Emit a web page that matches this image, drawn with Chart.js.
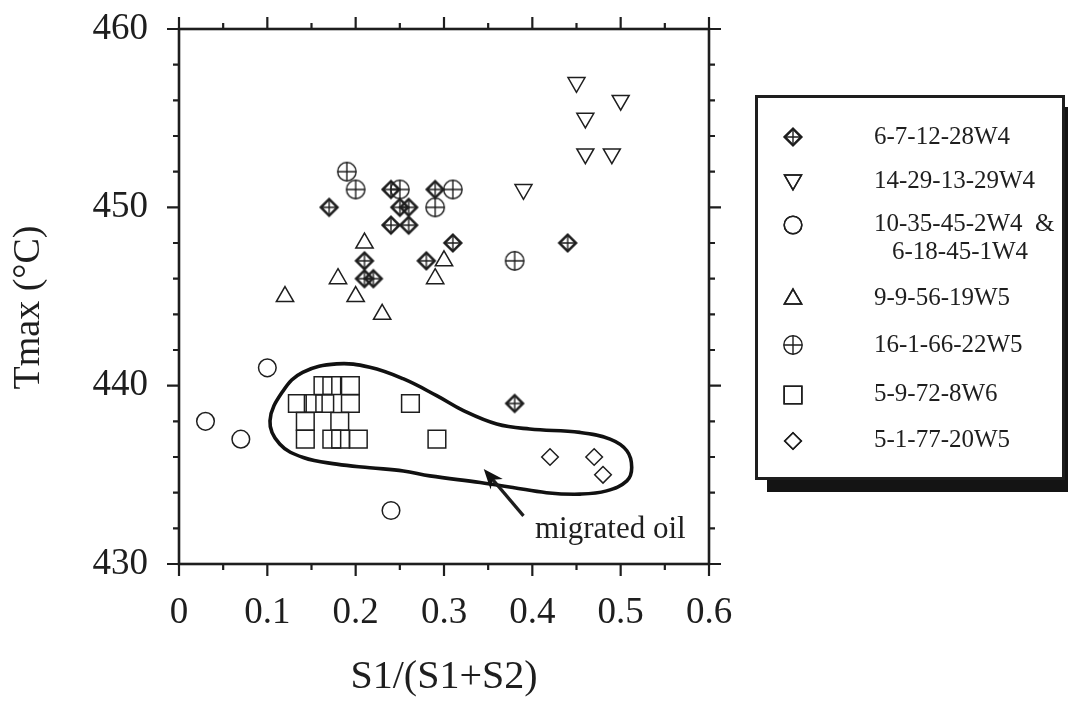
<!DOCTYPE html>
<html><head><meta charset="utf-8">
<style>html,body{margin:0;padding:0;background:#fff;}#wrap{width:1068px;height:701px;}</style>
<script src="https://cdn.jsdelivr.net/npm/chart.js@4/dist/chart.umd.min.js"></script>
</head><body><div id="wrap"><canvas id="c" width="1068" height="701"></canvas></div>
<script>
// ---- data ----
const xTickLabels = ['0','0.1','0.2','0.3','0.4','0.5','0.6'];
const yTickLabels = ['430','440','450','460'];
const xTitle = 'S1/(S1+S2)';
const yTitle = 'Tmax (°C)';
const seriesNames = [['6-7-12-28W4'],['14-29-13-29W4'],['10-35-45-2W4  &','6-18-45-1W4'],['9-9-56-19W5'],['16-1-66-22W5'],['5-9-72-8W6'],['5-1-77-20W5']];

const s1X = [0.17,0.24,0.25,0.26,0.29,0.24,0.26,0.31,0.21,0.28,0.21,0.22,0.44,0.38];
const s1Y = [450,451,450,450,451,449,449,448,447,447,446,446,448,439];
const s2X = [0.45,0.50,0.46,0.46,0.49,0.39];
const s2Y = [457,456,455,453,453,451];
const s3X = [0.10,0.03,0.07,0.24];
const s3Y = [441,438,437,433];
const s4X = [0.21,0.30,0.18,0.29,0.12,0.20,0.23];
const s4Y = [448,447,446,446,445,445,444];
const s5X = [0.19,0.20,0.25,0.31,0.29,0.38];
const s5Y = [452,451,451,451,450,447];
const s6X = [0.163,0.173,0.194,0.134,0.152,0.165,0.194,0.262,0.143,0.182,0.143,0.173,0.183,0.203,0.292];
const s6Y = [440,440,440,439,439,439,439,439,438,438,437,437,437,437,437];
const s7X = [0.42,0.47,0.48];
const s7Y = [436,436,435];

// outline of the "migrated oil" field (data units)
const outlineX = [0.103,0.118,0.140,0.1785,0.216,0.2536,0.2917,0.322,0.3597,0.397,0.454,0.488,0.507,0.5125,0.507,0.484,0.454,0.416,0.378,0.341,0.284,0.254,0.216,0.1785,0.1407,0.114];
const outlineY = [438.03,439.72,440.75,441.22,441.03,440.39,439.44,438.6,437.85,437.57,437.38,437.0,436.35,435.41,434.66,434.1,433.92,434.0,434.29,434.57,434.94,435.22,435.4,435.6,435.97,436.73];
const arrowX = [0.39,0.345];
const arrowY = [432.7,435.33];
const noteText = 'migrated oil';
const noteX = 0.403, noteY = 431.48;

// ---- helpers ----
const INK = '#1e1e1e';
const FONT = "'Liberation Serif','Times New Roman',serif";
const pts = (xs, ys) => xs.map((v, i) => ({x: v, y: ys[i]}));

function markerCanvas(kind) {
  const s = 26, c = document.createElement('canvas');
  c.width = s; c.height = s;
  const g = c.getContext('2d'), m = s / 2;
  g.strokeStyle = INK;
  if (kind === 'crossDiamond') {
    const r = 8.3;
    g.lineWidth = 2.5;
    g.beginPath(); g.moveTo(m - r, m); g.lineTo(m, m - r); g.lineTo(m + r, m); g.lineTo(m, m + r); g.closePath(); g.stroke();
    g.lineWidth = 1.4;
    g.beginPath(); g.moveTo(m - r, m); g.lineTo(m + r, m); g.moveTo(m, m - r); g.lineTo(m, m + r); g.stroke();
  } else {
    const r = 9.2;
    g.lineWidth = 1.4;
    g.beginPath(); g.arc(m, m, r, 0, Math.PI * 2); g.stroke();
    g.beginPath(); g.moveTo(m - r, m); g.lineTo(m + r, m); g.moveTo(m, m - r); g.lineTo(m, m + r); g.stroke();
  }
  return c;
}
const crossDiamond = markerCanvas('crossDiamond');
const crossCircle = markerCanvas('crossCircle');

const markerDefs = [
  {pointStyle: crossDiamond, radius: 9, rotation: 0},
  {pointStyle: 'triangle', radius: 9.8, rotation: 180},
  {pointStyle: 'circle', radius: 8.8, rotation: 0},
  {pointStyle: 'triangle', radius: 10, rotation: 0},
  {pointStyle: crossCircle, radius: 9, rotation: 0},
  {pointStyle: 'rect', radius: 12.5, rotation: 0},
  {pointStyle: 'rectRot', radius: 8.3, rotation: 0}
];
const seriesData = [pts(s1X,s1Y), pts(s2X,s2Y), pts(s3X,s3Y), pts(s4X,s4Y), pts(s5X,s5Y), pts(s6X,s6Y), pts(s7X,s7Y)];

// closed loop: pad with neighbours so every visible segment is smooth
const n = outlineX.length;
const loopIdx = [n - 1, ...outlineX.map((_, i) => i), 0, 1];
const loopData = loopIdx.map(i => ({x: outlineX[i], y: outlineY[i]}));

const datasets = [{
  label: 'outline', data: loopData, showLine: true, tension: 0.4,
  pointRadius: 0, borderWidth: 3.6, borderColor: '#111', backgroundColor: 'transparent',
  segment: {borderColor: c => (c.p0DataIndex === 0 || c.p1DataIndex === loopData.length - 1) ? 'rgba(0,0,0,0)' : '#111'}
}];
seriesData.forEach((d, i) => datasets.push({
  label: seriesNames[i].join(' '), data: d,
  pointStyle: markerDefs[i].pointStyle, pointRadius: markerDefs[i].radius,
  pointRotation: markerDefs[i].rotation, borderColor: INK, borderWidth: 1.5,
  backgroundColor: 'transparent', showLine: false
}));

const frameTicks = {
  id: 'frameTicks',
  afterDatasetsDraw(chart) {
    const {ctx, chartArea: a, scales: {x, y}} = chart;
    ctx.save();
    ctx.strokeStyle = INK;
    ctx.lineWidth = 2.6;
    ctx.strokeRect(a.left, a.top, a.right - a.left, a.bottom - a.top);
    ctx.lineWidth = 2.2;
    ctx.beginPath();
    for (let i = 0; i <= 12; i++) {
      const px = x.getPixelForValue(i * 0.05), len = i % 2 === 0 ? 12 : 6;
      ctx.moveTo(px, a.bottom); ctx.lineTo(px, a.bottom + len);
      ctx.moveTo(px, a.top); ctx.lineTo(px, a.top - len);
    }
    for (let t = 430; t <= 460; t += 2) {
      const py = y.getPixelForValue(t), len = (t - 430) % 10 === 0 ? 12 : 6;
      ctx.moveTo(a.left, py); ctx.lineTo(a.left - len, py);
      ctx.moveTo(a.right, py); ctx.lineTo(a.right + len, py);
    }
    ctx.stroke();

    // y-axis title (rotated), slightly below axis middle as in the figure
    ctx.save();
    ctx.translate(29, (a.top + a.bottom) / 2 + 11);
    ctx.rotate(-Math.PI / 2);
    ctx.font = '38px ' + FONT;
    ctx.fillStyle = INK; ctx.textAlign = 'center'; ctx.textBaseline = 'middle';
    ctx.fillText(yTitle, 0, 0);
    ctx.restore();

    // arrow and note
    const tx = x.getPixelForValue(arrowX[0]), ty = y.getPixelForValue(arrowY[0]);
    const hx = x.getPixelForValue(arrowX[1]), hy = y.getPixelForValue(arrowY[1]);
    const ang = Math.atan2(hy - ty, hx - tx);
    const L = 20, W = 8;
    const bx = hx - Math.cos(ang) * L, by = hy - Math.sin(ang) * L;
    ctx.lineWidth = 3.2;
    ctx.beginPath(); ctx.moveTo(tx, ty); ctx.lineTo(hx - Math.cos(ang) * 12, hy - Math.sin(ang) * 12); ctx.stroke();
    ctx.fillStyle = '#111';
    ctx.beginPath();
    ctx.moveTo(hx, hy);
    ctx.lineTo(bx - Math.sin(ang) * W, by + Math.cos(ang) * W);
    ctx.lineTo(hx - Math.cos(ang) * (L - 6), hy - Math.sin(ang) * (L - 6));
    ctx.lineTo(bx + Math.sin(ang) * W, by - Math.cos(ang) * W);
    ctx.closePath(); ctx.fill();
    ctx.fillStyle = INK;
    ctx.font = '31px ' + FONT;
    ctx.textAlign = 'left'; ctx.textBaseline = 'alphabetic';
    ctx.fillText(noteText, x.getPixelForValue(noteX), y.getPixelForValue(noteY));
    ctx.restore();
  }
};

const legendBox = {
  id: 'legendBox',
  afterDraw(chart) {
    const ctx = chart.ctx;
    ctx.save();
    ctx.fillStyle = '#141414';
    ctx.fillRect(767, 107, 320, 385);
    ctx.fillStyle = '#fff';
    ctx.fillRect(755, 95, 310, 385);
    ctx.lineWidth = 3; ctx.strokeStyle = INK;
    ctx.strokeRect(756.5, 96.5, 307, 382);
    const rows = [137, 181, 224, 298, 345, 394, 440];
    const mx = 793, tx = 874;
    ctx.font = '25px ' + FONT;
    ctx.fillStyle = INK; ctx.textBaseline = 'middle'; ctx.textAlign = 'left';
    chart.data.datasets.slice(1).forEach((ds, i) => {
      const yy = rows[i];
      const st = ds.pointStyle;
      if (typeof st !== 'string') {
        ctx.drawImage(st, mx - st.width / 2, yy - st.height / 2);
      } else {
        ctx.strokeStyle = INK; ctx.lineWidth = 1.5; ctx.fillStyle = 'transparent';
        Chart.helpers.drawPoint(ctx, {pointStyle: st, radius: ds.pointRadius, rotation: ds.pointRotation, borderWidth: 1.5}, mx, yy + (ds.pointRotation === 180 ? -1 : 1));
        ctx.stroke();
        ctx.fillStyle = INK;
      }
      const lines = seriesNames[i];
      ctx.fillText(lines[0], tx, yy);
      if (lines[1]) ctx.fillText(lines[1], tx + 18, yy + 28);
    });
    ctx.restore();
  }
};

new Chart(document.getElementById('c'), {
  type: 'scatter',
  data: {datasets},
  plugins: [frameTicks, legendBox],
  options: {
    responsive: false, animation: false, events: [], devicePixelRatio: 1,
    layout: {padding: {left: 0, top: 29, right: 359, bottom: 0}},
    plugins: {legend: {display: false}, tooltip: {enabled: false}},
    scales: {
      x: {
        type: 'linear', min: 0, max: 0.6,
        grid: {display: false, drawTicks: false}, border: {display: false},
        ticks: {stepSize: 0.1, padding: 27, color: INK, font: {family: FONT, size: 37},
          callback: (v, i) => xTickLabels[i]},
        title: {display: true, text: xTitle, color: INK, font: {family: FONT, size: 40, lineHeight: 1}, padding: {top: 0, bottom: 4}},
        afterFit: s => { s.height = 137; s.paddingLeft = 0; s.paddingRight = 0; }
      },
      y: {
        type: 'linear', min: 430, max: 460,
        grid: {display: false, drawTicks: false}, border: {display: false},
        ticks: {stepSize: 10, padding: 31, color: INK, font: {family: FONT, size: 37},
          callback: (v, i) => yTickLabels[i]},
        title: {display: false, text: yTitle},
        afterFit: s => { s.width = 179; s.paddingTop = 0; s.paddingBottom = 0; }
      }
    }
  }
});
</script></body></html>
